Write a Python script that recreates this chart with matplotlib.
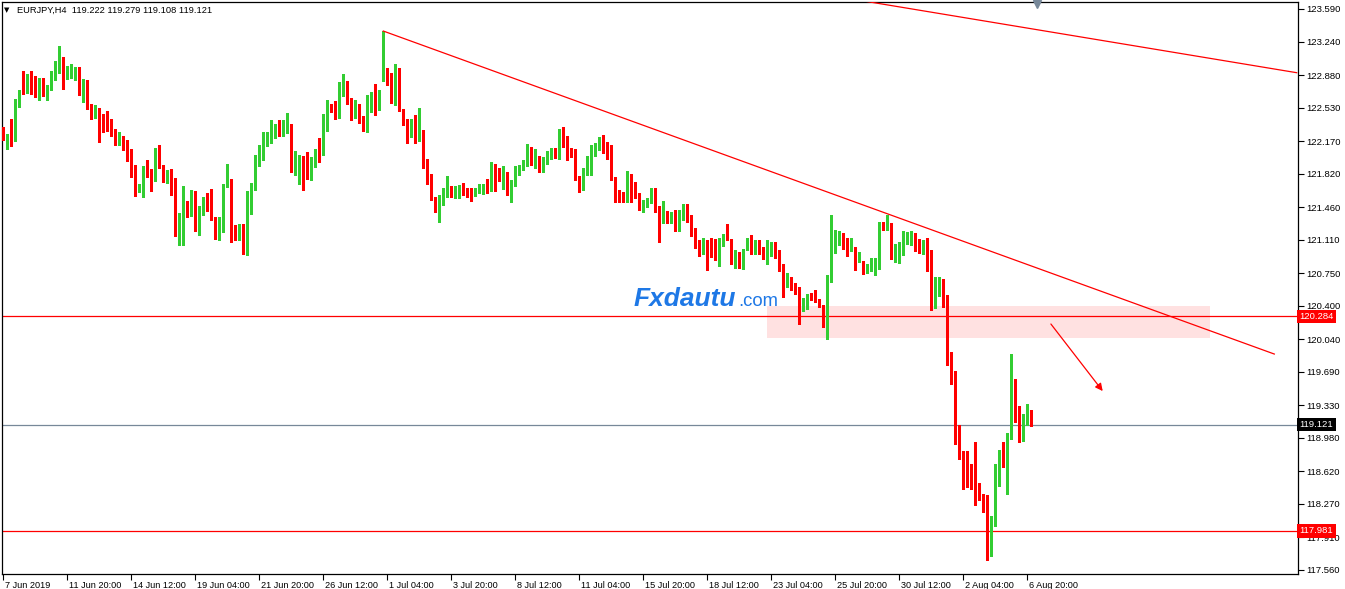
import matplotlib
matplotlib.use("Agg")
import matplotlib.pyplot as plt
from matplotlib.patches import Rectangle
from matplotlib.transforms import blended_transform_factory, ScaledTranslation
import numpy as np

plt.rcParams['font.family'] = ['Liberation Sans', 'DejaVu Sans']

# ---------------- data (EURJPY H4 candles) ----------------
title_text = "EURJPY,H4  119.222 119.279 119.108 119.121"

opens = [
    122.28, 122.21, 122.22, 122.21, 122.60, 122.82, 122.72, 122.87, 122.71, 122.65,
    122.84, 122.64, 122.75, 122.90, 122.93, 123.02, 122.87, 122.90, 122.95, 122.97,
    122.68, 122.69, 122.56, 122.47, 122.50, 122.44, 122.39, 122.34, 122.29, 122.13,
    122.18, 122.13, 122.09, 121.82, 121.65, 121.57, 121.88, 121.82, 121.74, 121.98,
    121.89, 121.76, 121.84, 121.70, 121.17, 121.21, 121.48, 121.36, 121.57, 121.22,
    121.44, 121.55, 121.52, 121.35, 121.18, 121.23, 121.68, 121.71, 121.22, 121.15,
    121.25, 120.96, 121.41, 121.70, 121.90, 121.99, 122.18, 122.19, 122.24, 122.33,
    122.24, 122.28, 122.34, 121.87, 121.89, 122.00, 121.85, 121.79, 121.97, 122.05,
    122.03, 122.28, 122.55, 122.52, 122.44, 122.67, 122.75, 122.62, 122.45, 122.53,
    122.43, 122.30, 122.61, 122.69, 122.52, 122.87, 122.89, 122.83, 122.65, 122.94,
    122.51, 122.37, 122.34, 122.37, 122.21, 122.22, 121.98, 121.70, 121.56, 121.48,
    121.56, 121.58, 121.64, 121.58, 121.62, 121.65, 121.61, 121.61, 121.59, 121.63,
    121.64, 121.69, 121.64, 121.91, 121.77, 121.66, 121.79, 121.66, 121.72, 121.84,
    121.87, 121.91, 122.08, 121.96, 121.97, 121.91, 121.95, 122.00, 122.07, 122.00,
    122.29, 122.11, 122.07, 122.03, 121.77, 121.73, 121.82, 121.98, 122.07, 122.10,
    122.18, 122.10, 122.03, 121.76, 121.63, 121.59, 121.55, 121.78, 121.63, 121.58,
    121.44, 121.47, 121.53, 121.58, 121.47, 121.38, 121.39, 121.30, 121.36, 121.35,
    121.35, 121.41, 121.33, 121.16, 121.07, 121.02, 121.09, 121.04, 121.03, 120.98,
    121.06, 121.15, 121.12, 120.93, 120.97, 120.79, 121.01, 121.11, 121.00, 121.06,
    121.02, 120.85, 121.02, 121.04, 120.98, 120.79, 120.61, 120.69, 120.58, 120.54,
    120.35, 120.36, 120.52, 120.53, 120.47, 120.40, 120.29, 120.66, 121.01, 121.06,
    121.16, 121.08, 121.01, 121.02, 120.89, 120.87, 120.78, 120.81, 120.85, 120.85,
    121.26, 121.23, 121.26, 120.94, 121.01, 121.06, 121.14, 121.12, 121.17, 121.08,
    120.99, 121.05, 120.84, 120.45, 120.63, 120.68, 120.50, 119.83, 119.69, 118.98,
    118.79, 118.66, 118.66, 118.63, 118.49, 118.34, 118.30, 117.99, 118.09, 118.57,
    118.73, 118.68, 119.00, 119.52, 119.18, 118.96, 119.15, 119.222,
]
highs = [
    122.32, 122.25, 122.41, 122.62, 122.72, 122.92, 122.89, 122.92, 122.87, 122.85,
    122.85, 122.77, 122.92, 123.03, 123.19, 123.07, 122.98, 123.00, 122.97, 122.97,
    122.84, 122.83, 122.57, 122.56, 122.53, 122.46, 122.49, 122.41, 122.30, 122.27,
    122.22, 122.18, 122.09, 121.91, 121.71, 121.90, 121.97, 121.87, 122.10, 122.13,
    121.91, 121.86, 121.87, 121.77, 121.40, 121.69, 121.53, 121.64, 121.63, 121.47,
    121.57, 121.61, 121.65, 121.35, 121.35, 121.71, 121.92, 121.76, 121.27, 121.28,
    121.28, 121.63, 121.72, 122.02, 122.13, 122.27, 122.27, 122.40, 122.35, 122.40,
    122.40, 122.47, 122.35, 122.06, 122.02, 122.01, 122.05, 122.00, 122.09, 122.20,
    122.46, 122.61, 122.57, 122.60, 122.80, 122.89, 122.82, 122.63, 122.61, 122.57,
    122.44, 122.67, 122.70, 122.78, 122.72, 123.35, 122.96, 122.90, 123.00, 122.96,
    122.52, 122.41, 122.41, 122.45, 122.53, 122.29, 121.98, 121.82, 121.57, 121.59,
    121.66, 121.79, 121.69, 121.69, 121.70, 121.72, 121.67, 121.66, 121.67, 121.71,
    121.71, 121.76, 121.94, 121.92, 121.88, 121.90, 121.84, 121.75, 121.90, 121.91,
    121.97, 122.14, 122.11, 122.09, 122.01, 122.00, 122.06, 122.10, 122.10, 122.30,
    122.32, 122.22, 122.10, 122.09, 121.79, 121.88, 122.01, 122.13, 122.15, 122.21,
    122.24, 122.16, 122.13, 121.78, 121.64, 121.62, 121.85, 121.82, 121.73, 121.61,
    121.54, 121.56, 121.67, 121.67, 121.47, 121.53, 121.42, 121.41, 121.43, 121.43,
    121.49, 121.49, 121.37, 121.23, 121.11, 121.13, 121.11, 121.13, 121.12, 121.13,
    121.17, 121.28, 121.12, 121.00, 120.98, 121.01, 121.13, 121.16, 121.11, 121.11,
    121.03, 121.11, 121.08, 121.08, 121.00, 120.85, 120.75, 120.71, 120.64, 120.60,
    120.48, 120.53, 120.54, 120.57, 120.47, 120.41, 120.73, 121.37, 121.21, 121.20,
    121.18, 121.13, 121.13, 121.03, 120.98, 120.88, 120.85, 120.91, 120.91, 121.30,
    121.30, 121.38, 121.29, 121.06, 121.09, 121.20, 121.19, 121.20, 121.18, 121.12,
    121.11, 121.13, 121.00, 120.71, 120.71, 120.69, 120.51, 119.90, 119.70, 119.12,
    118.84, 118.84, 118.70, 118.93, 118.49, 118.37, 118.36, 118.14, 118.70, 118.85,
    118.93, 119.03, 119.88, 119.61, 119.32, 119.23, 119.34, 119.279,
]
lows = [
    122.18, 122.09, 122.12, 122.17, 122.54, 122.68, 122.69, 122.68, 122.64, 122.61,
    122.65, 122.61, 122.72, 122.83, 122.90, 122.73, 122.84, 122.85, 122.83, 122.66,
    122.59, 122.52, 122.41, 122.42, 122.16, 122.27, 122.28, 122.22, 122.13, 122.13,
    122.07, 121.96, 121.78, 121.58, 121.62, 121.57, 121.78, 121.63, 121.74, 121.88,
    121.73, 121.72, 121.59, 121.15, 121.05, 121.05, 121.35, 121.36, 121.20, 121.16,
    121.37, 121.42, 121.32, 121.12, 121.11, 121.19, 121.68, 121.08, 121.11, 121.11,
    120.96, 120.95, 121.39, 121.64, 121.90, 121.97, 122.12, 122.15, 122.20, 122.22,
    122.22, 122.26, 121.84, 121.80, 121.71, 121.64, 121.76, 121.75, 121.89, 121.95,
    122.02, 122.28, 122.48, 122.41, 122.42, 122.65, 122.57, 122.40, 122.42, 122.36,
    122.28, 122.27, 122.48, 122.45, 122.50, 122.82, 122.77, 122.58, 122.56, 122.49,
    122.34, 122.15, 122.21, 122.15, 122.17, 121.88, 121.71, 121.54, 121.41, 121.30,
    121.48, 121.57, 121.57, 121.56, 121.56, 121.59, 121.57, 121.53, 121.58, 121.61,
    121.60, 121.61, 121.63, 121.63, 121.74, 121.65, 121.59, 121.51, 121.69, 121.81,
    121.86, 121.90, 121.91, 121.88, 121.84, 121.84, 121.92, 121.98, 121.99, 121.98,
    122.11, 121.97, 122.00, 121.75, 121.62, 121.64, 121.81, 121.81, 122.01, 122.07,
    122.04, 121.98, 121.75, 121.51, 121.51, 121.51, 121.52, 121.51, 121.56, 121.43,
    121.41, 121.46, 121.50, 121.41, 121.09, 121.29, 121.29, 121.29, 121.20, 121.20,
    121.32, 121.30, 121.15, 121.02, 120.93, 120.96, 120.78, 120.92, 120.89, 120.83,
    121.04, 121.11, 120.85, 120.81, 120.80, 120.79, 121.00, 120.96, 120.96, 120.96,
    120.90, 120.85, 120.93, 120.91, 120.77, 120.49, 120.60, 120.57, 120.53, 120.20,
    120.34, 120.36, 120.46, 120.44, 120.39, 120.17, 120.04, 120.66, 120.97, 121.05,
    121.01, 120.93, 120.99, 120.78, 120.87, 120.74, 120.75, 120.77, 120.73, 120.79,
    121.21, 121.21, 120.90, 120.87, 120.86, 120.94, 121.06, 121.05, 120.99, 120.97,
    120.96, 120.77, 120.35, 120.38, 120.50, 120.39, 119.76, 119.56, 118.91, 118.75,
    118.43, 118.45, 118.43, 118.26, 118.31, 118.18, 117.67, 117.71, 118.03, 118.46,
    118.67, 118.37, 118.97, 119.15, 118.93, 118.94, 119.12, 119.108,
]
closes = [
    122.20, 122.22, 122.21, 122.61, 122.62, 122.72, 122.87, 122.70, 122.65, 122.84,
    122.67, 122.75, 122.90, 122.93, 123.02, 122.87, 122.90, 122.94, 122.97, 122.68,
    122.69, 122.56, 122.47, 122.50, 122.43, 122.39, 122.34, 122.28, 122.22, 122.18,
    122.12, 122.08, 121.82, 121.65, 121.69, 121.88, 121.81, 121.75, 121.99, 121.88,
    121.74, 121.83, 121.69, 121.17, 121.22, 121.48, 121.37, 121.57, 121.22, 121.45,
    121.54, 121.52, 121.35, 121.16, 121.24, 121.69, 121.71, 121.22, 121.15, 121.25,
    120.96, 121.43, 121.71, 121.90, 122.03, 122.19, 122.21, 122.25, 122.34, 122.24,
    122.30, 122.34, 121.88, 121.90, 122.00, 121.84, 121.81, 121.98, 122.05, 122.03,
    122.29, 122.55, 122.51, 122.44, 122.68, 122.75, 122.61, 122.45, 122.53, 122.43,
    122.30, 122.62, 122.69, 122.53, 122.71, 122.89, 122.83, 122.65, 122.94, 122.50,
    122.35, 122.34, 122.37, 122.22, 122.22, 121.97, 121.79, 121.54, 121.48, 121.57,
    121.59, 121.64, 121.59, 121.62, 121.65, 121.61, 121.60, 121.59, 121.65, 121.67,
    121.69, 121.64, 121.91, 121.76, 121.75, 121.79, 121.66, 121.73, 121.85, 121.88,
    121.92, 122.08, 121.96, 121.97, 121.91, 121.96, 122.00, 122.08, 122.00, 122.29,
    122.11, 122.06, 122.03, 121.76, 121.73, 121.83, 121.98, 122.07, 122.12, 122.18,
    122.10, 122.03, 121.75, 121.62, 121.61, 121.55, 121.78, 121.63, 121.58, 121.45,
    121.48, 121.54, 121.58, 121.47, 121.37, 121.39, 121.31, 121.36, 121.35, 121.36,
    121.41, 121.32, 121.16, 121.05, 121.02, 121.09, 121.03, 121.03, 120.99, 121.07,
    121.16, 121.12, 120.93, 120.97, 120.88, 121.01, 121.11, 121.00, 121.06, 121.02,
    120.90, 121.03, 121.04, 120.98, 120.78, 120.61, 120.68, 120.57, 120.53, 120.36,
    120.37, 120.51, 120.51, 120.47, 120.39, 120.29, 120.67, 121.02, 121.10, 121.16,
    121.07, 121.01, 121.02, 120.89, 120.94, 120.78, 120.81, 120.85, 120.86, 121.26,
    121.23, 121.26, 120.94, 121.02, 121.08, 121.15, 121.15, 121.18, 121.06, 120.99,
    121.05, 120.83, 120.46, 120.63, 120.69, 120.50, 119.83, 119.68, 118.97, 118.79,
    118.64, 118.65, 118.61, 118.48, 118.41, 118.29, 117.99, 118.10, 118.59, 118.73,
    118.69, 119.00, 119.52, 119.17, 118.96, 119.16, 119.26, 119.121,
]

x_tick_idx = [0, 16, 32, 48, 64, 80, 96, 112, 128, 144, 160, 176, 192, 208, 224, 240, 256]
x_tick_labels = ["7 Jun 2019", "11 Jun 20:00", "14 Jun 12:00", "19 Jun 04:00", "21 Jun 20:00",
                 "26 Jun 12:00", "1 Jul 04:00", "3 Jul 20:00", "8 Jul 12:00", "11 Jul 04:00",
                 "15 Jul 20:00", "18 Jul 12:00", "23 Jul 04:00", "25 Jul 20:00", "30 Jul 12:00",
                 "2 Aug 04:00", "6 Aug 20:00"]
y_ticks = [123.590, 123.240, 122.880, 122.530, 122.170, 121.820, 121.460, 121.110, 120.750,
           120.400, 120.040, 119.690, 119.330, 118.980, 118.620, 118.270, 117.910, 117.560]

level_resist = 120.284
level_bid = 119.121
level_support = 117.981
zone_idx = [190.9, 301.7]
zone_price = [120.052, 120.397]
trend1_idx = [95, 317.75]
trend1_price = [123.353, 119.88]
trend2_idx = [150, 323.35]
trend2_price = [124.14, 122.905]
arrow_idx = [261.9, 274.85]
arrow_price = [120.203, 119.482]
shift_marker = (258.4, 123.64)

# ---------------- figure ----------------
W, H = 1345, 589
fig = plt.figure(figsize=(W / 100, H / 100), dpi=100)
ax_l, ax_r, ax_t, ax_b = 2, 1297.5, 2.3, 574
ax = fig.add_axes([ax_l / W, (H - ax_b) / H, (ax_r - ax_l) / W, (ax_b - ax_t) / H])
ax.set_xlim(-0.325, 323.55)
ax.set_ylim(117.515, 123.662)

GREEN = '#32CD32'
RED = '#FF0000'

o = np.array(opens); h = np.array(highs); l = np.array(lows); c = np.array(closes)
idx = np.arange(len(o))
cols = np.where(c >= o, GREEN, RED)

# zone
ax.add_patch(Rectangle((zone_idx[0], zone_price[0]), zone_idx[1] - zone_idx[0],
                       zone_price[1] - zone_price[0], facecolor='#FFE1E1', edgecolor='none', zorder=1))

# candles
ax.vlines(idx, l, h, colors=cols, linewidth=0.75, antialiased=False, zorder=3)
body_bottom = np.minimum(o, c)
body_h = np.maximum(np.abs(c - o), 0.011)
ax.bar(idx, body_h, bottom=body_bottom, width=0.75, color=cols, linewidth=0,
       antialiased=False, zorder=4)

# levels
ax.axhline(level_resist, color=RED, linewidth=0.9, zorder=2)
ax.axhline(level_bid, color='#778899', linewidth=0.9, zorder=2)
ax.axhline(level_support, color=RED, linewidth=0.9, zorder=2)

# trend lines
ax.plot(trend1_idx, trend1_price, color=RED, linewidth=0.9, zorder=5)
ax.plot(trend2_idx, trend2_price, color=RED, linewidth=0.9, zorder=5)

# arrow
ax.annotate('', xy=(arrow_idx[1], arrow_price[1]), xytext=(arrow_idx[0], arrow_price[0]),
            arrowprops=dict(arrowstyle='-|>', color=RED, lw=0.9, mutation_scale=11,
                            shrinkA=0, shrinkB=0), zorder=5)

# shift marker
ax.plot([shift_marker[0]], [shift_marker[1]], marker='v', color='#778899', markersize=6,
        clip_on=False, zorder=6)

# axes styling
for sp in ax.spines.values():
    sp.set_color('black')
    sp.set_linewidth(0.9)
ax.yaxis.tick_right()
ax.set_yticks(y_ticks)
ax.set_yticklabels([f"{v:.3f}" for v in y_ticks])
ax.tick_params(axis='y', which='both', direction='out', length=4, width=0.8, pad=2,
               labelsize=6.8, colors='black', left=False, right=True)
ax.set_xticks(x_tick_idx)
ax.set_xticklabels(x_tick_labels)
ax.tick_params(axis='x', direction='out', length=4, width=0.8, pad=1, labelsize=6.6,
               colors='black')
off = ScaledTranslation(1.5 / 100, 0, fig.dpi_scale_trans)
for lbl in ax.get_xticklabels():
    lbl.set_horizontalalignment('left')
    lbl.set_transform(lbl.get_transform() + off)

# price boxes on right axis
blend = blended_transform_factory(ax.transAxes, ax.transData)
for val, bg in [(level_resist, RED), (level_bid, 'black'), (level_support, RED)]:
    ax.text(1.0016, val, f"{val:.3f}", transform=blend, ha='left', va='center',
            fontsize=6.8, color='white', clip_on=False, zorder=10,
            bbox=dict(boxstyle='square,pad=0.25', facecolor=bg, edgecolor='none'))

# title
fig.text(4 / W, 1 - 10 / H, '\u25BC', fontsize=5, va='center', ha='left',
         family=['DejaVu Sans'])
fig.text(17 / W, 1 - 10 / H, title_text, fontsize=6.7, va='center', ha='left')

# watermark
fig.text(634 / W, 1 - 306.5 / H, 'Fxdautu', fontsize=19, fontweight='bold', fontstyle='italic',
         color='#1E78E6', va='baseline', ha='left', family=['Liberation Sans'])
fig.text(738 / W, 1 - 306.5 / H, '.com', fontsize=13.3, color='#1E78E6', va='baseline',
         ha='left', family=['Liberation Sans'])

fig.savefig('out.png', dpi=100, facecolor='white')
